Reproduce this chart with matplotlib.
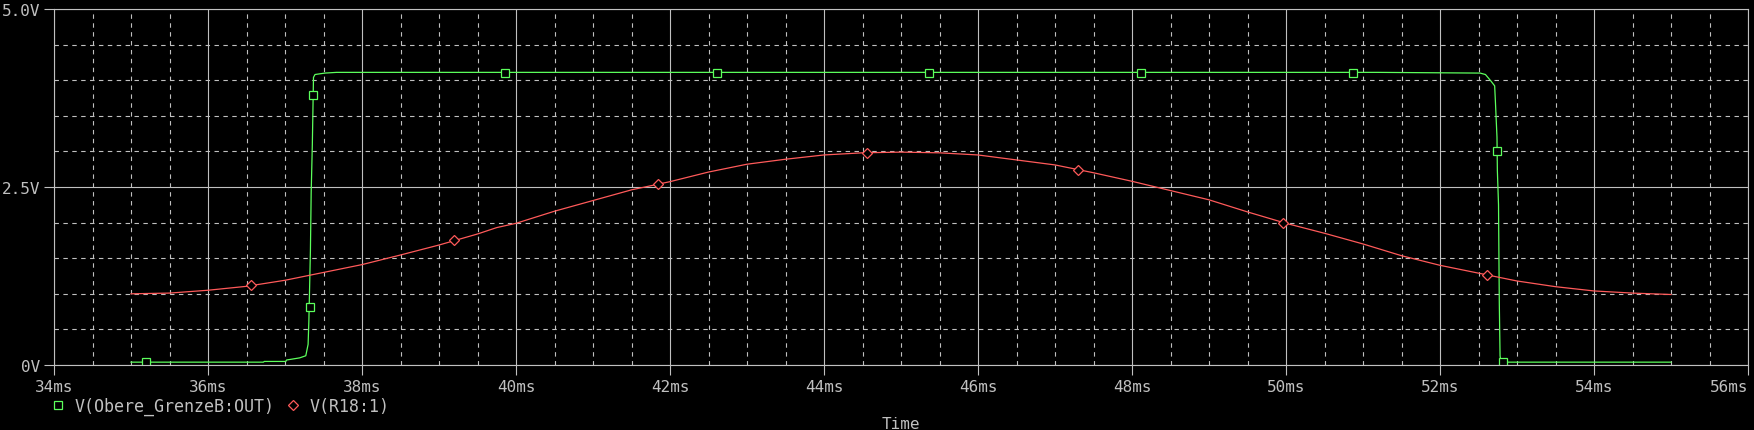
import matplotlib
matplotlib.use("Agg")
import matplotlib.pyplot as plt
from matplotlib.lines import Line2D
from matplotlib.ticker import MultipleLocator

# V(Obere_GrenzeB:OUT), time in ms, volts
t_out = [35.0, 36.72, 36.73, 37.01, 37.02, 37.19, 37.27, 37.30, 37.31, 37.33, 37.34,
         37.355, 37.37, 37.39, 37.52, 37.67, 51.19, 52.52, 52.59, 52.66, 52.71,
         52.72, 52.74, 52.745, 52.76, 52.77, 52.78, 52.79, 55.0]
v_out = [0.04, 0.04, 0.05, 0.05, 0.07, 0.10, 0.13, 0.29, 0.62, 1.6, 2.42,
         3.1, 4.04, 4.08, 4.10, 4.11, 4.11, 4.10, 4.08, 3.99, 3.92,
         3.69, 3.2, 2.73, 2.25, 0.88, 0.13, 0.04, 0.04]
t_out_mark = [35.19, 37.32, 37.37, 39.86, 42.61, 45.37, 48.12, 50.87, 52.74, 52.82]
v_out_mark = [0.04, 0.81, 3.79, 4.10, 4.10, 4.10, 4.10, 4.10, 3.0, 0.04]

# V(R18:1)
t_r18 = [35.0, 35.5, 36.0, 36.5, 37.0, 37.5, 38.0, 38.5, 39.0, 39.5, 39.75, 40.0,
         40.5, 41.0, 41.5, 42.0, 42.5, 43.0, 43.5, 44.0, 44.5, 45.0, 45.5, 46.0,
         46.5, 47.0, 47.5, 48.0, 48.5, 49.0, 49.5, 50.0, 50.5, 51.0, 51.5, 52.0,
         52.5, 53.0, 53.5, 54.0, 54.5, 55.0]
v_r18 = [1.0, 1.01, 1.05, 1.105, 1.19, 1.30, 1.41, 1.545, 1.685, 1.84, 1.93, 1.99,
         2.16, 2.31, 2.46, 2.575, 2.71, 2.82, 2.89, 2.95, 2.98, 2.99, 2.98, 2.95,
         2.88, 2.81, 2.70, 2.58, 2.45, 2.32, 2.15, 1.99, 1.85, 1.70, 1.535, 1.40,
         1.29, 1.18, 1.10, 1.04, 1.01, 0.99]
t_r18_mark = [36.56, 39.19, 41.85, 44.56, 47.30, 49.96, 52.61]
v_r18_mark = [1.12, 1.75, 2.54, 2.98, 2.74, 2.0, 1.27]

x_ticks = [34, 36, 38, 40, 42, 44, 46, 48, 50, 52, 54, 56]
x_labels = ["%dms" % v for v in x_ticks]
y_ticks = [0, 2.5, 5.0]
y_labels = ["0V", "2.5V", "5.0V"]

green = "#5cff5c"
red = "#ff5a5a"
grey = "#c0c0c0"

plt.rcParams["font.family"] = "DejaVu Sans Mono"

fig = plt.figure(figsize=(17.54, 4.31), dpi=100, facecolor="black")
ax = fig.add_axes([54 / 1754, 65 / 431, 1694 / 1754, 356 / 431])
ax.set_facecolor("black")

ax.plot(t_out, v_out, color=green, lw=0.9)
ax.plot(t_out_mark, v_out_mark, ls="none", marker="s", ms=6, mfc="black",
        mec=green, mew=0.9)
ax.plot(t_r18, v_r18, color=red, lw=0.9)
ax.plot(t_r18_mark, v_r18_mark, ls="none", marker="D", ms=5, mfc="black",
        mec=red, mew=0.9)

ax.set_xlim(34, 56)
ax.set_ylim(0, 5)
ax.set_xticks(x_ticks)
ax.set_xticklabels(x_labels)
ax.get_xticklabels()[-1].set_horizontalalignment("right")
ax.set_yticks(y_ticks)
ax.set_yticklabels(y_labels)
ax.xaxis.set_minor_locator(MultipleLocator(0.5))
ax.yaxis.set_minor_locator(MultipleLocator(0.5))
ax.grid(which="major", color=grey, lw=0.8, ls="-")
ax.grid(which="minor", color=grey, lw=0.8, ls=(0, (4, 4)))
ax.set_axisbelow(True)
ax.tick_params(which="major", direction="out", length=7, width=0.8,
               color=grey, labelcolor=grey, labelsize=11.5, pad=3)
ax.tick_params(which="minor", length=0)
for s in ax.spines.values():
    s.set_color(grey)
    s.set_linewidth(0.8)

handles = [Line2D([], [], ls="none", marker="s", ms=6, mfc="black", mec=green, mew=0.9),
           Line2D([], [], ls="none", marker="D", ms=5, mfc="black", mec=red, mew=0.9)]
leg = fig.legend(handles, ["V(Obere_GrenzeB:OUT)", "V(R18:1)"], loc="center left",
                 bbox_to_anchor=(50 / 1754, 1 - 407 / 431), ncol=2, frameon=False,
                 borderpad=0, borderaxespad=0, handlelength=1.0, handletextpad=0.5,
                 columnspacing=0.6, fontsize=12)
for txt in leg.get_texts():
    txt.set_color(grey)

fig.text(901 / 1754, 1 - 417 / 431, "Time", ha="center", va="top",
         color=grey, fontsize=11.5)

fig.savefig("out.png", dpi=100, facecolor="black")
